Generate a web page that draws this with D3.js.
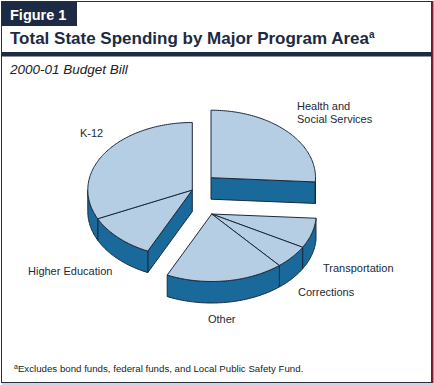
<!DOCTYPE html>
<html><head><meta charset="utf-8">
<script src="https://cdn.jsdelivr.net/npm/d3@7"></script>
<style>
body{margin:0;background:#fff}
svg{display:block}
text{font-family:"Liberation Sans",Arial,Helvetica,sans-serif}
</style>
</head><body>
<svg id="chart" width="434" height="385"></svg>
<script>
// ---- data ----
const categories = ["Health and Social Services","Transportation","Corrections","Other","Higher Education","K-12"];
const values = [26.0, 7.2, 5.6, 18.2, 11.0, 32.0];      // share of total (%)
const groupOf = [0, 1, 1, 1, 2, 2];                      // exploded wedge groups
const labelLines = [["Health and","Social Services"],["Transportation"],["Corrections"],["Other"],["Higher Education"],["K-12"]];
const titleText = "Total State Spending by Major Program Area";
const subtitleText = "2000-01 Budget Bill";
const footnoteText = "Excludes bond funds, federal funds, and Local Public Safety Fund.";

// ---- layout / style ----
const W = 434, H = 385;
const navy = "#1c2a43", topFill = "#b5cee4", sideFill = "#19699a", edge = "#1a2a3e";
const cx = 202, cy = 196, rx = 104.5, ry = 67.5, depth = 21.5;
const explode = [[9, -18.3], [9.7, 18], [-9.7, -6]];   // per group offset
const labelPos = [[297, 110], [323, 272], [298, 296], [208, 323], [28, 275], [80, 137]];

const svg = d3.select("#chart");

// frame
svg.append("rect").attr("x", 1.5).attr("y", 1.5).attr("width", 430).attr("height", 381)
  .attr("fill", "#fff").attr("stroke", "#2b2f3a").attr("stroke-width", 1);
svg.append("line").attr("x1", 432.5).attr("x2", 432.5).attr("y1", 1).attr("y2", 383)
  .attr("stroke", "#8a1c2c").attr("stroke-width", 2);
svg.append("line").attr("x1", 2).attr("x2", 434).attr("y1", 384).attr("y2", 384)
  .attr("stroke", "#b9cbe0").attr("stroke-width", 1.5);

// header
svg.append("rect").attr("x", 2).attr("y", 2).attr("width", 75).attr("height", 24).attr("fill", navy);
svg.append("text").attr("x", 10).attr("y", 19.5).attr("fill", "#fff")
  .attr("font-size", 14.5).attr("font-weight", "bold").text("Figure 1");
const t = svg.append("text").attr("x", 10).attr("y", 43.5).attr("fill", navy)
  .attr("font-size", 17).attr("font-weight", "bold");
t.append("tspan").text(titleText);
t.append("tspan").attr("font-size", 10).attr("dy", -6).text("a");
svg.append("rect").attr("x", 2).attr("y", 52).attr("width", 430).attr("height", 4.5).attr("fill", navy);
svg.append("text").attr("x", 10).attr("y", 74).attr("fill", "#222")
  .attr("font-size", 13.5).attr("font-style", "italic").text(subtitleText);

// ---- pie ----
const pie = d3.pie().sort(null).value(d => d);
const arcs = pie(values).map((d, i) => ({...d, i, g: groupOf[i]}));
const xS = d3.scaleLinear().domain([-1, 1]).range([-rx, rx]);
const yS = d3.scaleLinear().domain([-1, 1]).range([ry, -ry]);
const P = (a, g, z) => [cx + explode[g][0] + xS(Math.sin(a)), cy + explode[g][1] + yS(Math.cos(a)) + z];
const apex = (g, z) => [cx + explode[g][0], cy + explode[g][1] + z];
const line = d3.line();
function arcPts(a0, a1, g, z) {
  const n = Math.max(2, Math.ceil(Math.abs(a1 - a0) / 0.02));
  return d3.range(n + 1).map(k => P(a0 + (a1 - a0) * k / n, g, z));
}

const groupIds = [0, 2, 1];   // back to front
const layer = svg.append("g");
groupIds.forEach(g => {
  const sl = arcs.filter(d => d.g === g);
  const gs = d3.min(sl, d => d.startAngle), ge = d3.max(sl, d => d.endAngle);
  // cut faces
  const faces = [];
  if (Math.sin(gs) < -1e-6) faces.push(gs);
  if (Math.sin(ge) > 1e-6) faces.push(ge);
  faces.forEach(a => {
    layer.append("path").attr("d", line([apex(g, 0), P(a, g, 0), P(a, g, depth), apex(g, depth)]) + "Z")
      .attr("fill", sideFill).attr("stroke", edge).attr("stroke-width", 1).attr("stroke-linejoin", "round");
  });
  // outer walls
  sl.forEach(d => {
    const a = Math.max(d.startAngle, Math.PI / 2), b = Math.min(d.endAngle, 3 * Math.PI / 2);
    if (b <= a) return;
    const pts = arcPts(a, b, g, 0).concat(arcPts(b, a, g, depth));
    layer.append("path").attr("d", line(pts) + "Z")
      .attr("fill", sideFill).attr("stroke", edge).attr("stroke-width", 1).attr("stroke-linejoin", "round");
  });
  // top faces
  sl.forEach(d => {
    const pts = [apex(g, 0)].concat(arcPts(d.startAngle, d.endAngle, g, 0));
    layer.append("path").attr("d", line(pts) + "Z")
      .attr("fill", topFill).attr("stroke", edge).attr("stroke-width", 1).attr("stroke-linejoin", "round");
  });
});

// labels
arcs.forEach(d => {
  const tx = svg.append("text").attr("x", labelPos[d.i][0]).attr("y", labelPos[d.i][1])
    .attr("font-size", 11).attr("fill", "#222a36");
  labelLines[d.i].forEach((l, k) => tx.append("tspan").attr("x", labelPos[d.i][0]).attr("dy", k ? 13 : 0).text(l));
});

// footnote
const f = svg.append("text").attr("x", 14).attr("y", 372).attr("font-size", 9.7).attr("fill", "#222");
f.append("tspan").attr("font-size", 7).attr("dy", -3.5).text("a");
f.append("tspan").attr("dy", 3.5).text(footnoteText);
</script>
</body></html>
